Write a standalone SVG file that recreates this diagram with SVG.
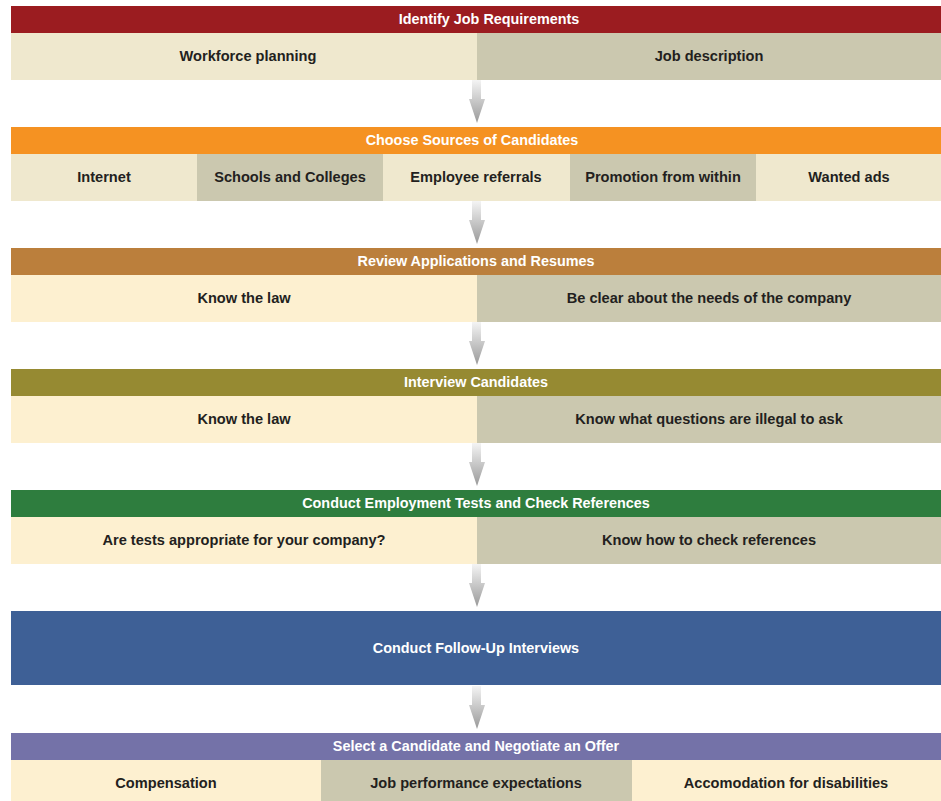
<svg xmlns="http://www.w3.org/2000/svg" width="941" height="801" viewBox="0 0 941 801">
<defs>
<linearGradient id="ag" x1="0" y1="0" x2="0" y2="1">
<stop offset="0" stop-color="#f4f4f4"/>
<stop offset="1" stop-color="#999999"/>
</linearGradient>
<symbol id="arrow" overflow="visible">
<path d="M472,0 H481 V19 H485 L477,43 L469,19 H472 Z" fill="url(#ag)"/>
</symbol>
</defs>
<style>
.h{font-family:"Liberation Sans",Arial,sans-serif;font-weight:bold;font-size:14.4px;fill:#ffffff;text-anchor:middle}
.t{font-family:"Liberation Sans",Arial,sans-serif;font-weight:bold;font-size:14.6px;fill:#231f20;text-anchor:middle}
.l1{fill:#efe8ce}
.l{fill:#fdf0d0}
.d{fill:#cbc8af}
</style>
<rect width="941" height="801" fill="#ffffff"/>
<g id="connectors">
<use href="#arrow" y="80"/>
<use href="#arrow" y="201"/>
<use href="#arrow" y="322"/>
<use href="#arrow" y="443"/>
<use href="#arrow" y="564"/>
<use href="#arrow" y="686"/>
</g>
<g id="step1">
<rect x="11" y="6" width="930" height="27" fill="#9b1c20"/>
<text class="h" x="489" y="24">Identify Job Requirements</text>
<rect class="l1" x="11" y="33" width="466" height="47"/>
<rect class="d" x="477" y="33" width="464" height="47"/>
<text class="t" x="248" y="61">Workforce planning</text>
<text class="t" x="709" y="61">Job description</text>
</g>
<g id="step2">
<rect x="11" y="127" width="930" height="27" fill="#f59222"/>
<text class="h" x="472" y="145">Choose Sources of Candidates</text>
<rect class="l1" x="11" y="154" width="186" height="47"/>
<rect class="d" x="197" y="154" width="186" height="47"/>
<rect class="l1" x="383" y="154" width="187" height="47"/>
<rect class="d" x="570" y="154" width="186" height="47"/>
<rect class="l1" x="756" y="154" width="185" height="47"/>
<text class="t" x="104" y="182">Internet</text>
<text class="t" x="290" y="182">Schools and Colleges</text>
<text class="t" x="476" y="182">Employee referrals</text>
<text class="t" x="663" y="182">Promotion from within</text>
<text class="t" x="849" y="182">Wanted ads</text>
</g>
<g id="step3">
<rect x="11" y="248" width="930" height="27" fill="#bb7f3c"/>
<text class="h" x="476" y="266">Review Applications and Resumes</text>
<rect class="l" x="11" y="275" width="466" height="47"/>
<rect class="d" x="477" y="275" width="464" height="47"/>
<text class="t" x="244" y="303">Know the law</text>
<text class="t" x="709" y="303">Be clear about the needs of the company</text>
</g>
<g id="step4">
<rect x="11" y="369" width="930" height="27" fill="#968a32"/>
<text class="h" x="476" y="387">Interview Candidates</text>
<rect class="l" x="11" y="396" width="466" height="47"/>
<rect class="d" x="477" y="396" width="464" height="47"/>
<text class="t" x="244" y="424">Know the law</text>
<text class="t" x="709" y="424">Know what questions are illegal to ask</text>
</g>
<g id="step5">
<rect x="11" y="490" width="930" height="27" fill="#2e7d3e"/>
<text class="h" x="476" y="508">Conduct Employment Tests and Check References</text>
<rect class="l" x="11" y="517" width="466" height="47"/>
<rect class="d" x="477" y="517" width="464" height="47"/>
<text class="t" x="244" y="545">Are tests appropriate for your company?</text>
<text class="t" x="709" y="545">Know how to check references</text>
</g>
<g id="step6">
<rect x="11" y="611" width="930" height="74" fill="#3e6096"/>
<text class="h" x="476" y="653">Conduct Follow-Up Interviews</text>
</g>
<g id="step7">
<rect x="11" y="733" width="930" height="27" fill="#7472a8"/>
<text class="h" x="476" y="751">Select a Candidate and Negotiate an Offer</text>
<rect class="l" x="11" y="760" width="310" height="41"/>
<rect class="d" x="321" y="760" width="311" height="41"/>
<rect class="l" x="632" y="760" width="309" height="41"/>
<text class="t" x="166" y="788">Compensation</text>
<text class="t" x="476" y="788">Job performance expectations</text>
<text class="t" x="786" y="788">Accomodation for disabilities</text>
</g>
</svg>
